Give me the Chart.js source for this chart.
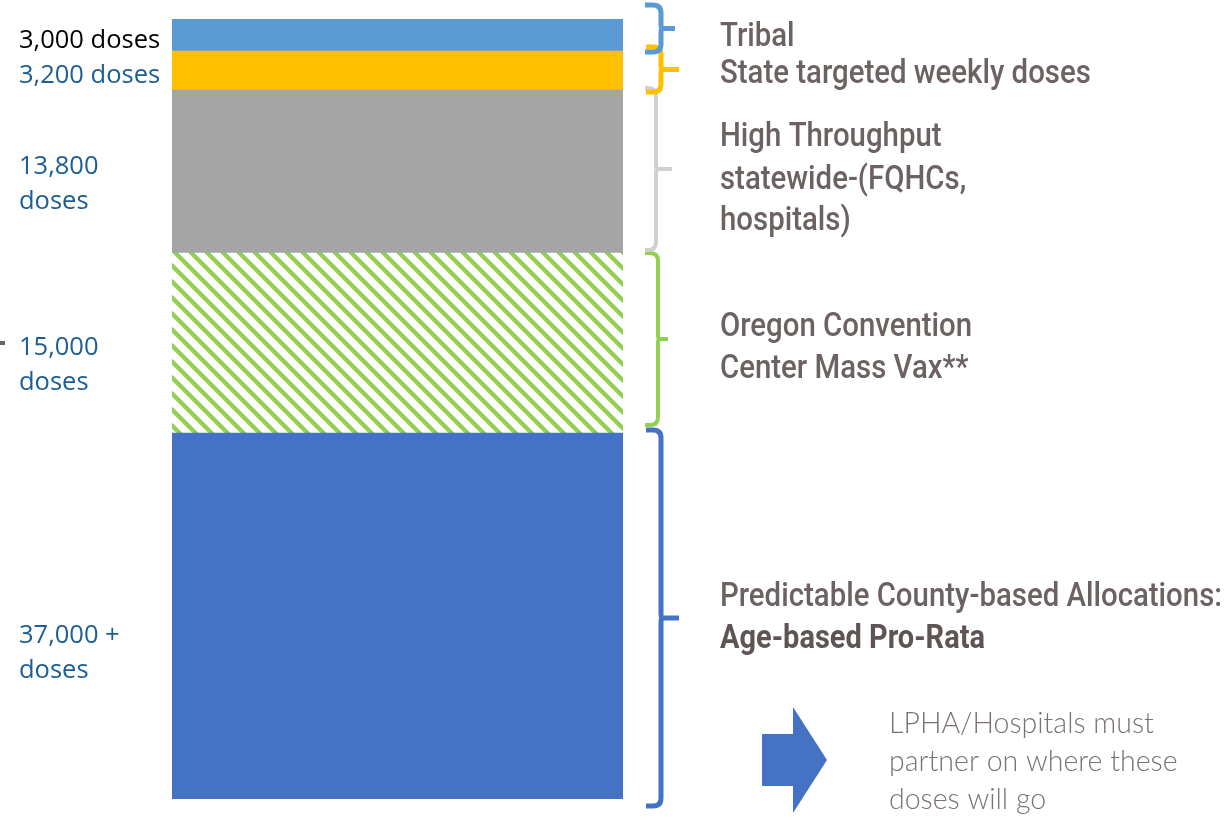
<!DOCTYPE html>
<html>
<head>
<meta charset="utf-8">
<script src="https://cdn.jsdelivr.net/npm/chart.js@4.4.1/dist/chart.umd.min.js"></script>
<style>
  html, body { margin: 0; padding: 0; background: #fff; }
  #wrap { width: 1230px; height: 817px; position: relative; }
</style>
</head>
<body>
<div id="wrap"><canvas id="doseChart" width="1230" height="817"></canvas></div>
<script>
// Datos: una sola barra apilada (de abajo hacia arriba)
const categories = ['Dosis semanales'];
const segmentNames = [
  'Predictable County-based Allocations',
  'Oregon Convention Center Mass Vax',
  'High Throughput statewide',
  'State targeted weekly doses',
  'Tribal'
];
// tamaño de cada tramo tal como se ve dibujado (miles de dosis aprox.)
const segmentSizes = [36.6, 18.0, 16.3, 3.9, 3.2];
const doseLabels = ['37,000 +', '15,000', '13,800', '3,200', '3,000'];
const scaleMax = 78;

const segmentColors = ['#4472C4', '#92D050', '#A5A5A5', '#FFC000', '#5B9BD5'];
const braceColors = ['#4472C4', '#92D050', '#D0D0D0', '#FFC000', '#5B9BD5'];

// Patrón rayado (diagonal "\") para el tramo del Convention Center
function stripePattern(color) {
  const s = 16;
  const c = document.createElement('canvas');
  c.width = s; c.height = s;
  const g = c.getContext('2d');
  g.fillStyle = '#fff';
  g.fillRect(0, 0, s, s);
  g.fillStyle = color;
  for (let py = 0; py < s; py++) {
    for (let px = 0; px < s; px++) {
      if (((px - py) % s + s) % s < 6) g.fillRect(px, py, 1, 1);
    }
  }
  return g.createPattern(c, 'repeat');
}

// Llaves "}" a la derecha de cada tramo
function drawBrace(ctx, top, bottom, x0, xv, xtip, color, lw) {
  const mid = (top + bottom) / 2;
  const r = Math.min(8, (bottom - top) / 4);
  ctx.save();
  ctx.strokeStyle = color;
  ctx.lineWidth = lw;
  ctx.beginPath();
  ctx.moveTo(x0, top);
  ctx.lineTo(xv - r, top);
  ctx.quadraticCurveTo(xv, top, xv, top + r);
  ctx.lineTo(xv, mid - 3);
  ctx.quadraticCurveTo(xv, mid, xv + 3, mid);
  ctx.lineTo(xtip, mid);
  ctx.moveTo(xv + 3, mid);
  ctx.quadraticCurveTo(xv, mid, xv, mid + 3);
  ctx.lineTo(xv, bottom - r);
  ctx.quadraticCurveTo(xv, bottom, xv - r, bottom);
  ctx.lineTo(x0, bottom);
  ctx.stroke();
  ctx.restore();
}

// texto condensado: se estrecha horizontalmente con k
function narrowText(ctx, text, x, y, k) {
  ctx.save();
  ctx.translate(x, y);
  ctx.scale(k, 1);
  ctx.fillText(text, 0, 0);
  ctx.restore();
}

const leftFont = '25.5px "Open Sans", sans-serif';
const rightFont = '500 33px Roboto, "Liberation Sans", sans-serif';
const rightBold = 'bold 33px Roboto, "Liberation Sans", sans-serif';

const annotations = {
  id: 'annotations',
  afterDatasetsDraw(chart) {
    const ctx = chart.ctx;
    const y = chart.scales.y;

    // límites de cada tramo según la escala
    let acc = 0;
    const bounds = segmentSizes.map(v => {
      const b = { bottom: y.getPixelForValue(acc), top: y.getPixelForValue(acc + v) };
      acc += v;
      return b;
    });

    // llaves
    const braceStyle = [
      { dt: -3, db: 7, x0: 646, xv: 661, xt: 679, lw: 5 },
      { dt: 0, db: -8, x0: 645, xv: 658, xt: 668, lw: 4 },
      { dt: -2, db: -3, x0: 645, xv: 656, xt: 672, lw: 4 },
      { dt: -4, db: 2, x0: 646, xv: 661, xt: 679, lw: 5 },
      { dt: -14, db: 1, x0: 645, xv: 661, xt: 675, lw: 5 }
    ];
    bounds.forEach((b, i) => {
      const s = braceStyle[i];
      drawBrace(ctx, b.top + s.dt, b.bottom + s.db, s.x0, s.xv, s.xt, braceColors[i], s.lw);
    });

    ctx.save();
    ctx.textBaseline = 'alphabetic';
    ctx.textAlign = 'left';

    // etiquetas de dosis a la izquierda
    ctx.font = leftFont;
    ctx.fillStyle = '#000';
    ctx.fillText(doseLabels[4] + ' doses', 19, 48);
    ctx.fillStyle = '#1B5E95';
    ctx.fillText(doseLabels[3] + ' doses', 19, 83);
    ctx.fillText(doseLabels[2], 19, 174);
    ctx.fillText('doses', 19, 209);
    ctx.fillText(doseLabels[1], 19, 355);
    ctx.fillText('doses', 19, 390);
    ctx.fillText(doseLabels[0], 19, 643);
    ctx.fillText('doses', 19, 678);

    // marca pequeña al borde izquierdo
    ctx.fillStyle = '#6D6262';
    ctx.fillRect(0, 341, 5, 4);

    // nombres de los tramos a la derecha
    ctx.fillStyle = '#6D6262';
    ctx.font = rightFont;
    const k = 502 / ctx.measureText('Predictable County-based Allocations:').width;
    narrowText(ctx, 'Tribal', 720, 46, k);
    narrowText(ctx, 'State targeted weekly doses', 720, 83, k);
    narrowText(ctx, 'High Throughput', 720, 146, k);
    narrowText(ctx, 'statewide-(FQHCs,', 720, 189, k);
    narrowText(ctx, 'hospitals)', 720, 230, k);
    narrowText(ctx, 'Oregon Convention', 720, 336, k);
    narrowText(ctx, 'Center Mass Vax**', 720, 378, k);
    narrowText(ctx, 'Predictable County-based Allocations:', 720, 606, k);
    ctx.fillStyle = '#5E5454';
    ctx.font = rightBold;
    const kb = 265 / ctx.measureText('Age-based Pro-Rata').width;
    narrowText(ctx, 'Age-based Pro-Rata', 720, 648, kb);

    // flecha azul
    ctx.fillStyle = '#4472C4';
    ctx.beginPath();
    ctx.moveTo(762, 734);
    ctx.lineTo(793, 734);
    ctx.lineTo(793, 707);
    ctx.lineTo(827, 760);
    ctx.lineTo(793, 813);
    ctx.lineTo(793, 786);
    ctx.lineTo(762, 786);
    ctx.closePath();
    ctx.fill();

    // nota
    ctx.fillStyle = '#7A7272';
    ctx.font = '300 28.5px Lato, "Open Sans", sans-serif';
    ctx.fillText('LPHA/Hospitals must', 889, 733);
    ctx.fillText('partner on where these', 889, 771);
    ctx.fillText('doses will go', 889, 809);
    ctx.restore();
  }
};

const ctx = document.getElementById('doseChart').getContext('2d');
new Chart(ctx, {
  type: 'bar',
  data: {
    labels: categories,
    datasets: segmentSizes.map((v, i) => ({
      label: segmentNames[i],
      data: [v],
      backgroundColor: i === 1 ? stripePattern(segmentColors[i]) : segmentColors[i],
      borderWidth: 0,
      categoryPercentage: 1,
      barPercentage: 1
    }))
  },
  options: {
    responsive: false,
    animation: false,
    layout: { padding: { left: 172, right: 607, top: 19, bottom: 18 } },
    scales: {
      x: { stacked: true, display: false },
      y: { stacked: true, display: false, min: 0, max: scaleMax }
    },
    plugins: {
      legend: { display: false },
      tooltip: { enabled: false }
    }
  },
  plugins: [annotations]
});
</script>
</body>
</html>
